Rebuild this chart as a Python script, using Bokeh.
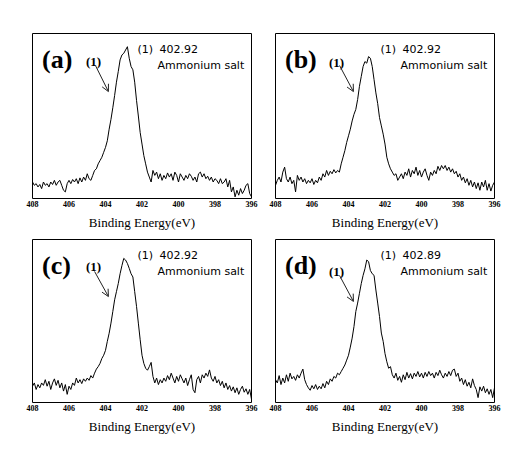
from bokeh.plotting import figure
from bokeh.models import Range1d, FixedTicker, Label, Arrow, OpenHead
from bokeh.layouts import column, row
from bokeh.embed import file_html
from bokeh.resources import INLINE

# ---------------- data ----------------
energy = [round(408.0 - 0.1 * i, 1) for i in range(121)]  # 408.0 -> 396.0 eV

intensity_a = [
    10, 8, 9, 7, 8.5, 6, 10, 8, 9, 7,
    10, 8.5, 11, 8, 10, 11, 8, 5, 4, 9,
    11, 9, 11.5, 10, 12, 9, 12.5, 10, 13, 11,
    15, 12, 11, 14, 17, 18, 21, 23, 25, 28,
    31, 35, 42, 48, 55, 62.5, 70.5, 77, 84, 87,
    88, 90, 92, 85, 80, 78, 70.5, 59.5, 50, 40,
    33, 26, 21, 16, 13, 10, 17, 14, 16, 12,
    15, 11, 14, 12, 15.5, 13, 15, 11, 16, 14,
    10, 15, 13, 11, 14, 12, 15, 13.5, 11, 13,
    10, 15, 16, 13, 15, 12, 13.5, 11, 13, 10,
    12, 11, 9, 12, 9, 10, 12, 7, 11, 4,
    7, 1, 5, 2, 6, 3, 5, 8, 9, 3,
    1,
]

intensity_b = [
    8, 11, 13, 10, 16, 19, 12, 10, 13, 9,
    11, 4, 14, 11, 13, 10, 12, 9, 11, 9.5,
    12, 8.5, 11, 9.5, 13, 11, 15, 13, 17, 14,
    16.5, 15, 17.5, 15.5, 17, 16, 21, 25, 29, 34,
    38, 42, 47, 51, 54, 60, 68, 74, 80, 83,
    82, 86, 85, 80, 72, 64, 57.5, 49, 44, 39,
    33, 25, 21, 18, 16, 14, 15, 11, 13, 15,
    12, 16, 14, 18, 13, 17, 15, 19, 14, 17,
    13, 16, 18, 14, 11, 16, 14, 17, 15, 19.5,
    17, 20, 18, 20, 17, 19, 16, 18, 15, 16.5,
    13, 15, 11, 13, 9.5, 12, 8, 11, 7, 10,
    6, 9.5, 5, 10, 7, 11, 5, 9, 4.5, 8,
    10,
]

intensity_c = [
    10, 12, 8, 11, 9, 12, 10.5, 14, 10, 13,
    8, 12, 14.5, 10.5, 13.6, 9, 12, 7, 11, 5,
    10, 8, 12, 10.5, 15, 12, 14, 11.6, 14.5, 13,
    15, 13.6, 16.5, 15, 18, 20.5, 22, 24, 27, 29,
    32, 37.5, 42.5, 48.7, 55.8, 63, 68, 73, 79, 84,
    88.4, 87.4, 85.3, 82.3, 79, 77, 68, 59, 48.7, 38.5,
    29, 24, 21, 19.8, 22, 24.6, 16, 12, 15, 11,
    14, 12, 15, 13, 16.5, 14, 18, 15, 12, 16,
    13, 17, 14.5, 12, 15, 10.4, 14, 17, 8, 6,
    14, 16, 12, 17, 15, 18, 16, 20, 15, 13,
    16, 12, 14, 10.4, 13, 9, 12, 8, 10.4, 7,
    9.6, 6, 9, 5, 8, 10, 6.3, 8.4, 5, 8,
    2,
]

intensity_d = [
    14, 12, 16.5, 11, 15, 12, 17, 13, 18, 14.5,
    16, 13.6, 17, 15, 18, 20.5, 14, 11, 9, 7.5,
    10.4, 8.4, 11, 8, 10, 8.4, 11.6, 9, 13, 11,
    14.5, 13, 16, 15, 18, 17, 19, 21, 23, 26,
    29, 34, 39.5, 46.6, 55.8, 61, 67, 73, 78, 82,
    87.4, 86.4, 81, 79, 78, 69, 61, 52.7, 42.6, 37.5,
    30, 25, 21, 22, 17, 15, 18, 13.6, 16, 12.4,
    17, 14, 18.5, 15, 17.7, 14.5, 18, 16, 19, 15.7,
    18, 15, 18.5, 16, 19, 16.5, 18, 15, 18.5, 16.5,
    19.8, 17, 15, 18, 16, 19, 16.5, 19.8, 20.5, 16,
    18, 13, 15, 11, 14, 10, 12.4, 9, 14.5, 10.4,
    8, 3, 9.6, 7, 10, 6, 8.4, 5, 8, 3,
    9,
]

panel_tags = ["(a)", "(b)", "(c)", "(d)"]
peak_energies = ["402.92", "402.92", "402.92", "402.89"]
peak_number = "(1)"
species_name = "Ammonium  salt"
x_ticks = [408, 406, 404, 402, 400, 398, 396]
x_title = "Binding Energy(eV)"

# ---------------- drawing ----------------

def make_panel(values, tag, peak, top_row, left_col, arrow_xy, arrow_lbl_top):
    bl = 32 if left_col else 17
    br = 7 if left_col else 8
    frame_w = 219
    width = bl + frame_w + br
    bt = 33 if top_row else 5
    bb = 36
    frame_h = 165 if top_row else 163
    height = bt + frame_h + bb

    p = figure(width=width, height=height,
               x_range=Range1d(408, 396), y_range=Range1d(0, 100),
               output_backend="svg", toolbar_location=None,
               y_axis_location=None,
               min_border_left=bl, min_border_right=br,
               min_border_top=bt, min_border_bottom=bb)
    p.grid.visible = False
    p.outline_line_color = "black"
    p.outline_line_width = 1
    p.outline_line_alpha = 1.0
    p.background_fill_color = "white"
    p.border_fill_color = "white"

    ax = p.xaxis[0]
    ax.ticker = FixedTicker(ticks=x_ticks)
    ax.major_tick_out = 0
    ax.major_tick_in = 0
    ax.minor_tick_out = 0
    ax.minor_tick_in = 0
    ax.axis_line_color = None
    ax.major_label_text_font = "Liberation Sans Narrow"
    ax.major_label_text_font_style = "bold"
    ax.major_label_text_font_size = "8px"
    ax.major_label_text_color = "black"
    ax.major_label_standoff = 2
    ax.axis_label = x_title
    ax.axis_label_text_font = "Liberation Serif"
    ax.axis_label_text_font_style = "normal"
    ax.axis_label_text_font_size = "13px"
    ax.axis_label_text_color = "black"
    ax.axis_label_standoff = 5

    p.line(energy, values, line_color="black", line_width=1)

    def lab(text, x, top, font, size, style="normal"):
        p.add_layout(Label(x=x, y=frame_h - top, x_units="screen", y_units="screen",
                           text=text, text_font=font, text_font_size=size,
                           text_font_style=style, text_color="black",
                           text_baseline="alphabetic", text_align="left"))

    lab(tag, 9.5, 25.5, "Liberation Serif", "26px", "bold")
    lab(peak_number, 53.5, arrow_lbl_top, "Liberation Serif", "13px", "bold")
    lab(peak_number, 105, 15.7, "DejaVu Sans", "11px")
    lab(peak, 127, 15.7, "DejaVu Sans", "11px")
    lab(species_name, 125, 31.7, "DejaVu Sans", "11px")

    (xs, ys), (xe, ye) = arrow_xy
    p.add_layout(Arrow(x_start=xs, y_start=ys, x_end=xe, y_end=ye,
                       line_color="#222222", line_width=1,
                       end=OpenHead(size=7, line_color="#222222", line_width=1)))
    return p


pa = make_panel(intensity_a, panel_tags[0], peak_energies[0], True, True,
                ((404.55, 80.6), (403.84, 64.8)), 27.5)
pb = make_panel(intensity_b, panel_tags[1], peak_energies[1], True, False,
                ((404.49, 80.6), (403.73, 64.8)), 28.5)
pc = make_panel(intensity_c, panel_tags[2], peak_energies[2], False, True,
                ((404.60, 80.4), (403.84, 65.0)), 27.0)
pd = make_panel(intensity_d, panel_tags[3], peak_energies[3], False, False,
                ((404.49, 77.9), (403.73, 62.0)), 31.5)

layout = column(row(pa, pb), row(pc, pd))

open("out.html", "w").write(file_html(layout, INLINE))
